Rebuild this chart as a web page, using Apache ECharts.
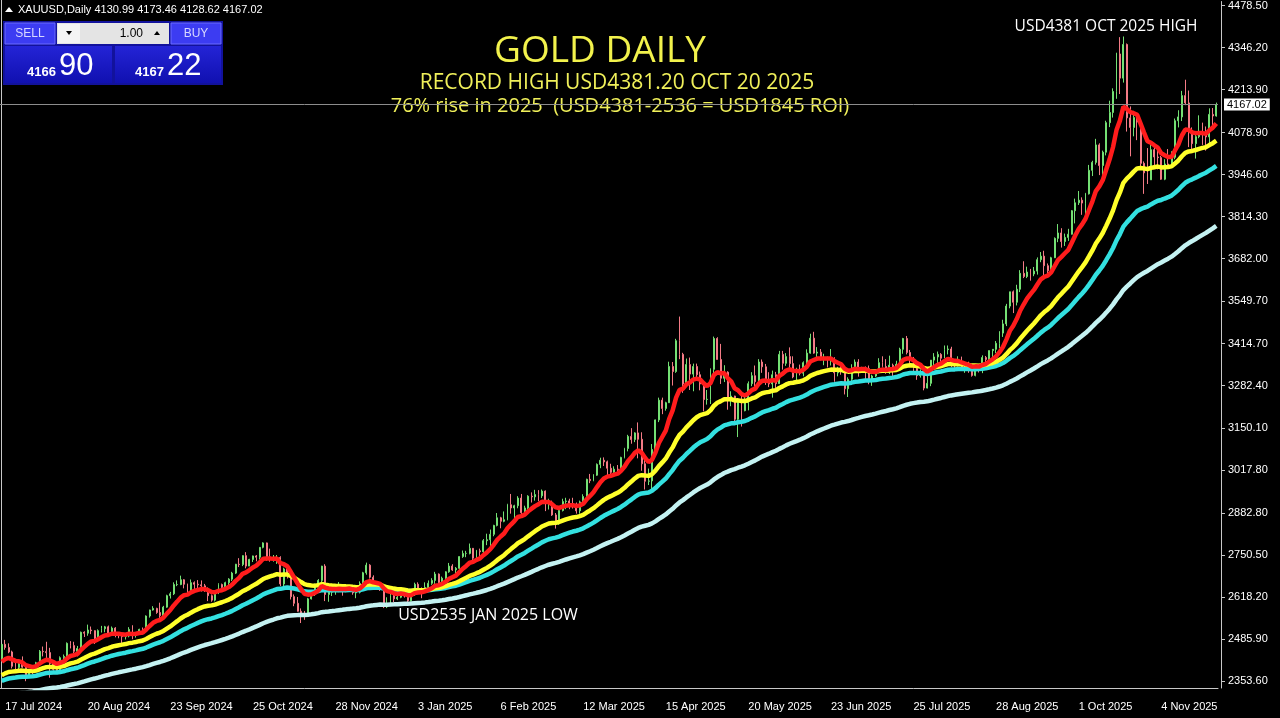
<!DOCTYPE html>
<html><head><meta charset="utf-8">
<script src="https://cdn.jsdelivr.net/npm/echarts@6/dist/echarts.min.js"></script>
<style>html,body{margin:0;padding:0;background:#000;overflow:hidden}#c{width:1280px;height:718px}</style>
</head><body><div id="c"></div>
<script>
// ---------- calendar (trading days of the chart) ----------
const firstDay = '2024-07-16';
const lastDay = '2025-11-26';
const marketHolidays = ['2024-12-25', '2025-01-01', '2025-04-18'];
const MONTHS = ['Jan','Feb','Mar','Apr','May','Jun','Jul','Aug','Sep','Oct','Nov','Dec'];
function tradingDays() {
  const out = [];
  let d = new Date(firstDay + 'T00:00:00Z');
  const end = new Date(lastDay + 'T00:00:00Z');
  while (d <= end) {
    const wd = d.getUTCDay();
    const iso = d.toISOString().slice(0, 10);
    if (wd !== 0 && wd !== 6 && marketHolidays.indexOf(iso) < 0)
      out.push(d.getUTCDate() + ' ' + MONTHS[d.getUTCMonth()] + ' ' + d.getUTCFullYear());
    d = new Date(d.getTime() + 86400000);
  }
  return out;
}
const dates = tradingDays();

// ---------- XAUUSD daily prices ----------
const opens = [
2422,2469,2459,2445,2400,2396,2409,2397,2364,2387,2384,2411,
2447,2446,2443,2409,2390,2382,2427,2431,2472,2465,2447,2456,2507,2504,2514,2512,2484,2512,2518,2524,2504,2520,
2503,2500,2493,2495,2516,2497,2506,2516,2512,2558,2577,2582,2569,2559,2586,2622,2628,2657,2657,2672,2658,
2634,2663,2658,2656,2653,2644,2622,2608,2630,2657,2648,2663,2674,2693,2721,2720,2748,2715,2736,2747,2743,2774,2788,
2744,2736,2736,2742,2659,2706,2685,2619,2598,2573,2565,2563,2612,2631,2651,2670,2715,2626,2633,2637,2640,
2650,2640,2643,2650,2631,2633,2660,2694,2718,2680,2648,2652,2646,2587,2594,2622,2612,2617,2634,2621,2606,
2625,2658,2640,2636,2648,2661,2670,2690,2662,2677,2697,2715,2703,2708,2745,2755,2755,2771,2740,2763,2760,2795,
2798,2815,2843,2867,2856,2861,2908,2898,2905,2929,2883,2898,2935,2933,2940,2936,2951,2915,2916,2876,
2858,2890,2918,2920,2911,2910,2889,2917,2934,2988,2984,3001,3035,3048,3043,3023,3010,3020,3019,3057,3085,
3123,3113,3134,3114,3037,2982,2983,3082,3175,3237,3211,3229,3343,3327,3424,3381,3288,3349,3319,3343,3317,
3288,3239,3240,3334,3431,3365,3306,3325,3236,3250,3177,3240,3204,3229,3289,3314,3295,3357,3342,3300,3288,3317,
3289,3381,3353,3374,3352,3310,3325,3322,3355,3385,3432,3385,3388,3369,3369,3368,3368,3323,3332,3327,3273,
3303,3338,3357,3326,3337,3336,3302,3313,3324,3355,3343,3324,3347,3338,3350,3397,3431,3387,3368,3337,3314,3326,3275,
3290,3363,3373,3381,3369,3396,3398,3351,3347,3357,3335,3336,3332,3315,3348,3339,3371,3365,3393,3397,3416,
3448,3477,3533,3578,3545,3586,3636,3626,3640,3634,3643,3679,3690,3660,3644,3685,3746,3763,3736,3749,3759,3833,
3858,3866,3857,3886,3960,3985,4040,3975,4017,4110,4142,4208,4326,4250,4356,4125,4095,4126,4112,3982,3952,3930,4025,
4002,4000,3932,3980,3977,4001,4116,4128,4195,4172,4083,4044,4066,4078,4077,4065,4136,4131];
const highs = [
2469,2483,2472,2449,2411,2415,2431,2399,2389,2393,2414,2451,
2462,2477,2458,2418,2404,2431,2437,2475,2479,2477,2464,2509,2510,2531,2525,2513,2516,2527,2527,2528,2525,2523,
2506,2504,2503,2523,2529,2508,2518,2522,2560,2578,2589,2584,2600,2590,2625,2634,2664,2670,2685,2674,2660,
2673,2667,2671,2670,2659,2648,2626,2636,2661,2660,2666,2677,2697,2722,2740,2749,2759,2738,2748,2750,2774,2790,2789,
2770,2750,2750,2746,2710,2709,2686,2626,2618,2582,2574,2615,2640,2660,2674,2716,2721,2636,2644,2651,2665,
2651,2657,2655,2653,2647,2667,2697,2726,2721,2686,2665,2655,2652,2617,2632,2626,2622,2638,2638,2623,2627,
2663,2664,2648,2664,2670,2677,2697,2692,2682,2699,2725,2721,2712,2746,2764,2763,2786,2772,2766,2770,2800,2817,
2830,2845,2882,2870,2887,2911,2942,2908,2935,2942,2905,2938,2947,2955,2954,2956,2953,2927,2921,2882,
2895,2927,2930,2927,2930,2915,2921,2941,2990,3005,3004,3038,3056,3057,3047,3037,3029,3033,3059,3087,3128,
3149,3136,3167,3136,3055,3022,3099,3176,3245,3245,3232,3358,3357,3430,3500,3386,3368,3371,3352,3352,3327,
3290,3269,3337,3437,3435,3414,3347,3328,3265,3251,3242,3252,3250,3296,3325,3346,3366,3365,3351,3325,3330,3326,
3392,3392,3385,3403,3375,3339,3349,3359,3397,3446,3452,3404,3398,3383,3374,3398,3372,3342,3350,3332,3309,
3350,3365,3366,3342,3343,3346,3317,3331,3369,3375,3366,3377,3352,3361,3402,3433,3439,3395,3373,3345,3334,3334,3315,
3363,3385,3390,3385,3409,3409,3405,3359,3375,3374,3345,3358,3345,3350,3351,3378,3376,3393,3398,3423,3454,
3490,3540,3578,3582,3600,3646,3674,3657,3650,3656,3686,3703,3707,3667,3688,3749,3791,3778,3761,3776,3835,3871,
3895,3875,3889,3977,3990,4059,4045,4022,4116,4179,4218,4330,4379,4381,4359,4161,4147,4136,4113,3988,4030,4047,4034,
4030,4005,3995,4027,4020,4123,4149,4210,4245,4211,4095,4083,4133,4110,4098,4155,4156,4173];
const lows = [
2421,2452,2441,2393,2384,2385,2395,2353,2364,2375,2381,2407,
2431,2426,2364,2386,2378,2377,2415,2427,2456,2441,2431,2454,2492,2496,2501,2470,2480,2506,2507,2493,2502,2491,
2488,2471,2484,2491,2485,2490,2500,2500,2510,2553,2575,2565,2546,2552,2584,2613,2624,2652,2655,2645,2624,
2625,2643,2641,2635,2634,2605,2603,2604,2627,2634,2640,2655,2668,2690,2712,2715,2708,2715,2728,2730,2736,2771,2732,
2729,2729,2722,2652,2643,2676,2610,2589,2572,2536,2546,2563,2610,2621,2648,2664,2605,2603,2621,2625,2633,
2622,2633,2634,2625,2614,2629,2656,2688,2676,2643,2645,2637,2583,2583,2592,2601,2608,2614,2616,2596,2603,
2621,2635,2614,2633,2644,2656,2657,2656,2661,2671,2694,2700,2689,2698,2741,2743,2752,2730,2736,2745,2755,2781,
2772,2809,2840,2834,2853,2859,2880,2864,2897,2877,2880,2893,2915,2921,2919,2929,2888,2893,2873,2833,
2845,2887,2894,2894,2896,2880,2880,2906,2932,2976,2982,2999,3023,3030,2999,3002,3006,3011,3013,3054,3076,
3100,3105,3054,3015,2956,2970,2957,3073,3168,3193,3204,3228,3283,3323,3366,3260,3286,3269,3265,3300,3268,
3202,3223,3225,3317,3365,3288,3294,3207,3218,3171,3121,3154,3202,3205,3281,3279,3287,3323,3285,3278,3245,3271,
3288,3333,3345,3339,3306,3294,3315,3312,3340,3383,3383,3365,3362,3347,3340,3346,3295,3312,3317,3255,3247,
3296,3327,3311,3323,3297,3287,3282,3310,3322,3340,3320,3319,3310,3332,3345,3383,3381,3351,3325,3301,3308,3268,3274,
3281,3346,3354,3358,3369,3381,3341,3331,3343,3331,3323,3323,3311,3312,3324,3322,3351,3351,3369,3385,3401,
3436,3470,3526,3511,3535,3577,3621,3621,3613,3627,3632,3671,3627,3628,3635,3684,3734,3717,3722,3738,3758,3793,
3851,3820,3822,3884,3942,3978,3945,3946,4007,4096,4126,4185,4200,4236,4082,4004,4067,4055,3973,3886,3917,3930,3964,
3963,3930,3929,3971,3968,3995,4095,4115,4165,4033,4015,3997,4061,4040,4022,4041,4100,4129];
const closes = [
2469,2459,2445,2400,2396,2409,2397,2364,2387,2384,2411,2447,
2446,2443,2409,2390,2382,2427,2431,2472,2465,2447,2456,2507,2504,2514,2512,2484,2512,2518,2524,2504,2520,2503,
2500,2493,2495,2516,2497,2506,2516,2512,2558,2577,2582,2569,2559,2586,2622,2628,2657,2657,2672,2658,2634,
2663,2658,2656,2653,2644,2622,2608,2630,2657,2648,2663,2674,2693,2721,2720,2748,2715,2736,2747,2743,2774,2788,2744,
2736,2736,2742,2659,2706,2685,2619,2598,2573,2565,2563,2612,2631,2651,2670,2715,2626,2633,2637,2640,2650,
2640,2643,2650,2631,2633,2660,2694,2718,2680,2648,2652,2646,2587,2594,2622,2612,2617,2634,2621,2606,2625,
2658,2640,2636,2648,2661,2670,2690,2662,2677,2697,2715,2703,2708,2745,2755,2755,2771,2740,2763,2760,2795,2798,
2815,2843,2867,2856,2861,2908,2898,2905,2929,2883,2898,2935,2933,2940,2936,2951,2915,2916,2876,2858,
2890,2918,2920,2911,2910,2889,2917,2934,2988,2984,3001,3035,3048,3043,3023,3010,3020,3019,3057,3085,3123,
3113,3134,3114,3037,2982,2983,3082,3175,3237,3211,3229,3343,3327,3424,3381,3288,3349,3319,3343,3317,3288,
3239,3240,3334,3431,3365,3306,3325,3236,3250,3177,3240,3204,3229,3289,3314,3295,3357,3342,3300,3288,3317,3289,
3381,3353,3374,3352,3310,3325,3322,3355,3385,3432,3385,3388,3369,3369,3368,3368,3323,3332,3327,3273,3303,
3338,3357,3326,3337,3336,3302,3313,3324,3355,3343,3324,3347,3338,3350,3397,3431,3387,3368,3337,3314,3326,3275,3290,
3363,3373,3381,3369,3396,3398,3351,3347,3357,3335,3336,3332,3315,3348,3339,3371,3365,3393,3397,3416,3448,
3477,3533,3578,3545,3586,3636,3626,3640,3634,3643,3679,3690,3660,3644,3685,3746,3763,3736,3749,3759,3833,3858,
3866,3857,3886,3960,3985,4040,3975,4017,4110,4142,4208,4326,4250,4356,4125,4095,4126,4112,3982,3952,3930,4025,4002,
4000,3932,3980,3977,4001,4116,4128,4195,4172,4083,4044,4066,4078,4077,4065,4136,4131,4167];

// ---------- moving averages (EMA on close), values at first bar ----------
const maPeriods = [10, 30, 50, 100];
const maStartValues = [2414, 2372, 2354, 2304];
const maColors = ['#ff1c1c', '#ffff2a', '#33e0e0', '#c4f2f2'];

// ---------- axis ticks ----------
const priceTicks = [2353.60, 2485.90, 2618.20, 2750.50, 2882.80, 3017.80, 3150.10, 3282.40, 3414.70,
  3549.70, 3682.00, 3814.30, 3946.60, 4078.90, 4213.90, 4346.20, 4478.50];
const lastPrice = 4167.02;
const dateTickEvery = 24, dateTickFirst = 1;

function ema(values, period, start) {
  const k = 2 / (period + 1);
  let e = start;
  return values.map(function (v, i) { if (i > 0) e = e + k * (v - e); return +e.toFixed(2); });
}

const candleData = dates.map(function (_, i) { return [opens[i], closes[i], lows[i], highs[i]]; });
const showDate = function (idx) { return idx >= dateTickFirst && (idx - dateTickFirst) % dateTickEvery === 0; };

const maSeries = maPeriods.map(function (p, j) {
  return {
    type: 'line', name: 'EMA' + p, data: ema(closes, p, maStartValues[j]),
    showSymbol: false, symbol: 'none', silent: true, z: 10 - j,
    lineStyle: { color: maColors[j], width: 4.5 }
  };
}).reverse();

const chart = echarts.init(document.getElementById('c'), null, { renderer: 'canvas' });
const FONT = 'Liberation Sans';
const TFONT = 'Open Sans';
chart.setOption({
  backgroundColor: '#000000',
  animation: false,
  grid: { left: 0, right: 62, top: 0, bottom: 30 },
  xAxis: {
    type: 'category', data: dates, boundaryGap: true,
    axisLine: { lineStyle: { color: '#c8c8c8', width: 1 } },
    axisTick: { alignWithLabel: true, interval: showDate, length: 4, lineStyle: { color: '#c8c8c8' } },
    axisLabel: { interval: showDate, align: 'left', color: '#ffffff', fontSize: 11, fontFamily: FONT, margin: 13, hideOverlap: false },
    splitLine: { show: false }
  },
  yAxis: {
    type: 'value', position: 'right', min: 2331.6, max: 4491.05, offset: 3,
    axisLine: { show: true, lineStyle: { color: '#c8c8c8', width: 1 } },
    axisTick: { show: true, length: 4, customValues: priceTicks, lineStyle: { color: '#c8c8c8' } },
    axisLabel: { customValues: priceTicks, formatter: function (v) { return v.toFixed(2); }, color: '#ffffff', fontSize: 11, fontFamily: FONT, margin: 7 },
    splitLine: { show: false }
  },
  series: [{
    type: 'candlestick', name: 'XAUUSD', data: candleData, barWidth: 1.4, z: 2,
    itemStyle: { color: '#74e074', color0: '#f47b86', borderColor: '#74e074', borderColor0: '#f47b86', borderWidth: 1 },
    markLine: {
      silent: true, symbol: ['none', 'none'], animation: false,
      data: [{ yAxis: lastPrice }],
      lineStyle: { color: '#8c8c8c', width: 1, type: 'solid' },
      label: { position: 'end', formatter: lastPrice.toFixed(2), backgroundColor: '#ffffff', color: '#000000',
        fontSize: 11, fontFamily: FONT, padding: [1, 3, 0, 3], distance: 6 }
    }
  }].concat(maSeries),
  graphic: [
    { type: 'line', shape: { x1: 1.5, y1: 0, x2: 1.5, y2: 688 }, style: { stroke: '#c8c8c8', lineWidth: 1 }, silent: true },
    { type: 'polygon', shape: { points: [[5, 12], [9, 7], [13, 12]] }, style: { fill: '#ffffff' } },
    { type: 'text', x: 18, y: 10, style: { text: 'XAUUSD,Daily 4130.99 4173.46 4128.62 4167.02', fill: '#ffffff', fontSize: 11, fontFamily: FONT, verticalAlign: 'middle' } },
    // trade panel
    { type: 'rect', shape: { x: 3, y: 21, width: 220, height: 64 }, style: { fill: '#12129c' } },
    { type: 'rect', shape: { x: 5, y: 23, width: 50, height: 21 }, style: { fill: '#3c3cf2', stroke: '#6a6aff', lineWidth: 1 } },
    { type: 'text', x: 30, y: 33.5, style: { text: 'SELL', fill: '#d8d8ff', fontSize: 12, fontFamily: FONT, align: 'center', verticalAlign: 'middle' } },
    { type: 'rect', shape: { x: 57, y: 23, width: 112, height: 21 }, style: { fill: '#e4e4e4' } },
    { type: 'rect', shape: { x: 58, y: 24, width: 22, height: 19 }, style: { fill: '#f4f4f4' } },
    { type: 'polygon', shape: { points: [[66, 31], [72, 31], [69, 35]] }, style: { fill: '#000' } },
    { type: 'text', x: 143, y: 33.5, style: { text: '1.00', fill: '#000000', fontSize: 12, fontFamily: FONT, align: 'right', verticalAlign: 'middle' } },
    { type: 'polygon', shape: { points: [[154, 35], [160, 35], [157, 31]] }, style: { fill: '#000' } },
    { type: 'rect', shape: { x: 171, y: 23, width: 50, height: 21 }, style: { fill: '#3c3cf2', stroke: '#6a6aff', lineWidth: 1 } },
    { type: 'text', x: 196, y: 33.5, style: { text: 'BUY', fill: '#d8d8ff', fontSize: 12, fontFamily: FONT, align: 'center', verticalAlign: 'middle' } },
    { type: 'rect', shape: { x: 5, y: 46, width: 107, height: 37 }, style: { fill: new echarts.graphic.LinearGradient(0, 0, 0, 1, [{ offset: 0, color: '#2424d6' }, { offset: 1, color: '#1010b0' }]) } },
    { type: 'rect', shape: { x: 115, y: 46, width: 106, height: 37 }, style: { fill: new echarts.graphic.LinearGradient(0, 0, 0, 1, [{ offset: 0, color: '#2424d6' }, { offset: 1, color: '#1010b0' }]) } },
    { type: 'text', x: 56, y: 72, style: { text: '4166', fill: '#ffffff', fontSize: 13, fontWeight: 'bold', fontFamily: FONT, align: 'right', verticalAlign: 'middle' } },
    { type: 'text', x: 59, y: 66, style: { text: '90', fill: '#ffffff', fontSize: 31, fontFamily: FONT, align: 'left', verticalAlign: 'middle' } },
    { type: 'text', x: 164, y: 72, style: { text: '4167', fill: '#ffffff', fontSize: 13, fontWeight: 'bold', fontFamily: FONT, align: 'right', verticalAlign: 'middle' } },
    { type: 'text', x: 167, y: 66, style: { text: '22', fill: '#ffffff', fontSize: 31, fontFamily: FONT, align: 'left', verticalAlign: 'middle' } },
    // titles
    { type: 'text', x: 600, y: 51, style: { text: 'GOLD DAILY', fill: '#f2f24c', fontSize: 37, fontFamily: TFONT, align: 'center', verticalAlign: 'middle' } },
    { type: 'text', x: 617, y: 83, style: { text: 'RECORD HIGH USD4381.20 OCT 20 2025', fill: '#f0f05a', fontSize: 21, fontFamily: TFONT, align: 'center', verticalAlign: 'middle' } },
    { type: 'text', x: 620, y: 106, style: { text: '76% rise in 2025  (USD4381-2536 = USD1845 ROI)', fill: '#f0f05a', fontSize: 20, fontFamily: TFONT, align: 'center', verticalAlign: 'middle' } },
    { type: 'text', x: 1106, y: 27, style: { text: 'USD4381 OCT 2025 HIGH', fill: '#ffffff', fontSize: 15.5, fontFamily: TFONT, align: 'center', verticalAlign: 'middle' } },
    { type: 'text', x: 488, y: 615, style: { text: 'USD2535 JAN 2025 LOW', fill: '#ffffff', fontSize: 16, fontFamily: TFONT, align: 'center', verticalAlign: 'middle' } }
  ]
});
</script>
</body></html>
